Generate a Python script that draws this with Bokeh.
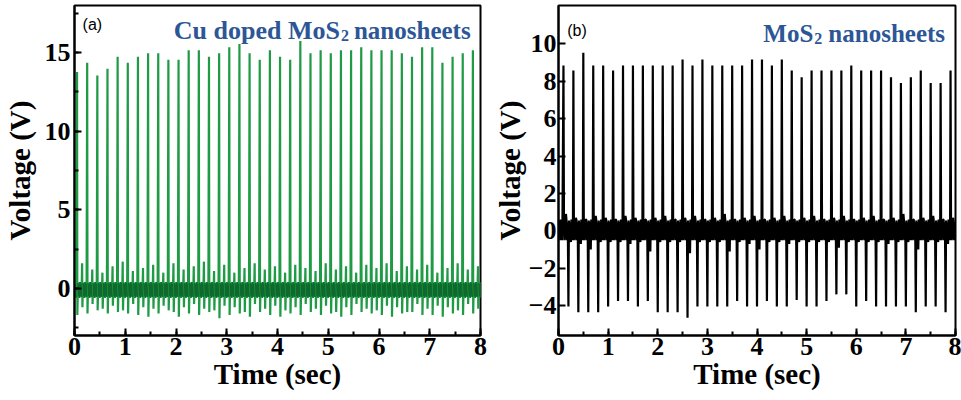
from bokeh.plotting import figure
from bokeh.layouts import row
from bokeh.models import Range1d, SingleIntervalTicker, FixedTicker, Label
from bokeh.embed import file_html
from bokeh.resources import INLINE

# ---------------- data ----------------
# Panel (a): Cu doped MoS2 nanosheets
A_PEAK_T = [0.05, 0.25, 0.45, 0.65, 0.85, 1.05, 1.25, 1.45, 1.65, 1.85,
            2.05, 2.25, 2.45, 2.65, 2.85, 3.05, 3.25, 3.45, 3.65, 3.85,
            4.05, 4.25, 4.45, 4.65, 4.85, 5.05, 5.25, 5.45, 5.65, 5.85,
            6.05, 6.25, 6.45, 6.65, 6.85, 7.05, 7.25, 7.45, 7.65, 7.85]
A_PEAK_V = [13.77, 14.36, 13.55, 13.98, 14.74, 14.36, 14.74, 14.96, 14.96, 14.55,
            14.55, 15.15, 15.15, 14.74, 14.96, 15.34, 15.55, 14.96, 14.55, 15.15,
            14.74, 14.55, 15.74, 14.96, 15.15, 14.96, 15.15, 15.15, 15.34, 15.15,
            15.15, 15.15, 14.96, 14.74, 15.34, 15.34, 14.36, 14.74, 14.96, 15.15]
A_DIP_V = [-1.7, -1.6, -1.4, -1.6, -1.5, -1.6, -1.7, -1.8, -1.6, -1.4,
           -1.8, -1.6, -1.7, -1.5, -1.9, -1.7, -1.6, -1.8, -1.5, -1.7,
           -1.8, -1.6, -1.7, -1.5, -1.7, -1.6, -1.8, -1.7, -1.5, -1.6,
           -1.7, -1.8, -1.6, -1.5, -1.7, -1.7, -1.8, -1.6, -1.7, -1.6]
A_BUMP_V = [1.6, 1.2, 1.0, 1.4, 1.7, 1.1, 1.3, 1.5, 1.0, 1.6,
            1.2, 1.4, 1.7, 1.1, 1.5, 1.0, 1.3, 1.6, 1.2, 1.4,
            1.0, 1.5, 1.3, 1.1, 1.6, 1.2, 1.4, 1.0, 1.5, 1.3,
            1.6, 1.1, 1.4, 1.2, 1.5, 1.0, 1.3, 1.6, 1.2, 1.4]
A_DIP2_V = [-1.2, -1.0, -1.3, -1.1, -1.4, -1.0, -1.2, -1.3, -1.1, -1.5,
            -1.2, -1.0, -1.3, -1.4, -1.1, -1.2, -1.5, -1.0, -1.3, -1.1,
            -1.4, -1.2, -1.0, -1.3, -1.1, -1.5, -1.2, -1.0, -1.3, -1.4,
            -1.1, -1.2, -1.5, -1.0, -1.3, -1.1, -1.2, -1.4, -1.0, -1.3]
A_NOISE = [0.35, -0.5, 0.25, -0.6, 0.4, -0.45, 0.3, -0.55]

# Panel (b): MoS2 nanosheets
B_PEAK_T = [0.1, 0.3, 0.5, 0.7, 0.9, 1.1, 1.3, 1.5, 1.7, 1.9,
            2.1, 2.3, 2.5, 2.7, 2.9, 3.1, 3.3, 3.5, 3.7, 3.9,
            4.1, 4.3, 4.5, 4.7, 4.9, 5.1, 5.3, 5.5, 5.7, 5.9,
            6.1, 6.3, 6.5, 6.7, 6.9, 7.1, 7.3, 7.5, 7.7, 7.9]
B_PEAK_V = [8.84, 8.57, 9.52, 8.84, 8.84, 8.57, 8.84, 8.84, 8.84, 8.84,
            8.84, 8.84, 9.16, 8.84, 9.16, 8.84, 8.84, 8.84, 8.84, 9.16,
            9.16, 8.84, 9.16, 8.57, 8.21, 8.57, 8.57, 8.57, 8.57, 8.84,
            8.57, 8.57, 8.57, 8.21, 7.90, 8.21, 8.57, 7.90, 7.90, 8.57]
B_TROUGH_T = [0.2, 0.4, 0.6, 0.8, 1.0, 1.2, 1.4, 1.6, 1.8, 2.0,
              2.2, 2.4, 2.6, 2.8, 3.0, 3.2, 3.4, 3.6, 3.8, 4.0,
              4.2, 4.4, 4.6, 4.8, 5.0, 5.2, 5.4, 5.6, 5.8, 6.0,
              6.2, 6.4, 6.6, 6.8, 7.0, 7.2, 7.4, 7.6, 7.8]
B_TROUGH_V = [-4.05, -4.36, -4.36, -4.36, -4.05, -3.75, -3.75, -4.05, -3.75, -4.36,
              -4.36, -4.36, -4.65, -4.05, -4.05, -4.05, -4.05, -3.75, -4.05, -4.05,
              -3.75, -4.05, -4.05, -3.70, -4.05, -4.05, -3.75, -3.40, -3.40, -4.05,
              -3.75, -4.05, -4.05, -4.05, -4.05, -4.36, -4.05, -4.05, -4.36]
B_BUMP_V = [0.9, 0.7, 0.6, 0.8, 0.7, 0.6, 0.8, 0.7, 0.6, 0.7,
            0.8, 0.6, 0.7, 0.8, 0.6, 0.7, 0.9, 0.6, 0.7, 0.8,
            0.6, 0.7, 0.8, 0.6, 0.7, 0.8, 0.6, 0.7, 0.8, 0.6,
            0.7, 0.8, 0.6, 0.7, 0.9, 0.6, 0.7, 0.8, 0.6, 0.7]
B_DIP_V = [-0.6, -0.7, -1.0, -0.6, -0.6, -0.6, -0.7, -0.6, -1.1, -0.6,
           -0.6, -0.6, -1.2, -0.6, -0.6, -0.6, -1.1, -0.6, -0.7, -1.0,
           -0.6, -0.6, -0.7, -0.6, -0.6, -0.6, -0.6, -0.9, -0.6, -0.6,
           -0.6, -0.6, -0.7, -0.6, -0.6, -1.0, -0.6, -0.6, -0.7, -0.6]
B_NOISE = [0.55, -0.5, 0.45, -0.45, 0.6, -0.5, 0.45, -0.5]

A_YTICKS = [0, 5, 10, 15]
B_YTICKS = [-4, -2, 0, 2, 4, 6, 8, 10]

# ---------------- build waveforms from the read values ----------------
def build_a():
    t, v, bt, bv = [], [], [], []
    for k in range(4):
        t.append(k * 0.01); v.append(A_NOISE[k])
        bt.append(k * 0.01); bv.append(A_NOISE[k])
    for i, tp in enumerate(A_PEAK_T):
        t += [tp, tp + 0.006]
        v += [A_PEAK_V[i], A_DIP_V[i]]
        bt.append(float("nan")); bv.append(float("nan"))
        for k, n in enumerate(A_NOISE):
            t.append(tp + 0.018 + k * 0.01); v.append(n)
            bt.append(tp + 0.018 + k * 0.01); bv.append(n)
        t += [tp + 0.1, tp + 0.106]
        v += [A_BUMP_V[i], A_DIP2_V[i]]
        bt.append(float("nan")); bv.append(float("nan"))
        for k, n in enumerate(A_NOISE):
            t.append(tp + 0.118 + k * 0.01); v.append(n)
            bt.append(tp + 0.118 + k * 0.01); bv.append(n)
    return t, v, bt, bv


def build_b():
    t, v = [], []
    for k in range(9):
        t.append(k * 0.01); v.append(B_NOISE[k % len(B_NOISE)])
    for i, tp in enumerate(B_PEAK_T):
        t.append(tp); v.append(B_PEAK_V[i])
        for k in range(4):
            t.append(tp + 0.01 + k * 0.01); v.append(B_NOISE[k])
        t.append(tp + 0.05); v.append(B_BUMP_V[i])
        for k in range(4):
            t.append(tp + 0.06 + k * 0.01); v.append(B_NOISE[4 + k])
        if i < len(B_TROUGH_T):
            t.append(B_TROUGH_T[i]); v.append(B_TROUGH_V[i])
        for k in range(4):
            t.append(tp + 0.11 + k * 0.01); v.append(B_NOISE[k])
        t.append(tp + 0.15); v.append(B_DIP_V[i])
        for k in range(4):
            t.append(tp + 0.16 + k * 0.01); v.append(B_NOISE[4 + k])
    return t, v


SERIF = "Liberation Serif"
TITLE_COLOR = "#2c5696"


def style(p, yticks, ticker_y_minor, y_label_standoff, y_major_standoff):
    p.outline_line_color = "black"
    p.outline_line_width = 2
    p.xgrid.visible = False
    p.ygrid.visible = False
    p.xaxis.ticker = SingleIntervalTicker(interval=1, num_minor_ticks=2)
    if ticker_y_minor:
        p.yaxis.ticker = SingleIntervalTicker(interval=5, num_minor_ticks=2)
    else:
        p.yaxis.ticker = FixedTicker(ticks=yticks)
    for ax in (p.xaxis[0], p.yaxis[0]):
        ax.axis_line_width = 2
        ax.major_tick_in = 7
        ax.major_tick_out = 0
        ax.minor_tick_in = 4
        ax.minor_tick_out = 0
        ax.major_tick_line_width = 2
        ax.minor_tick_line_width = 2
        ax.major_label_text_font = SERIF
        ax.major_label_text_font_style = "bold"
        ax.major_label_text_font_size = "26px"
        ax.major_label_text_color = "black"
        ax.axis_label_text_font = SERIF
        ax.axis_label_text_font_style = "bold"
        ax.axis_label_text_font_size = "29px"
        ax.axis_label_text_color = "black"
    p.xaxis.major_label_standoff = 2
    p.xaxis.axis_label_standoff = 0
    p.yaxis.major_label_standoff = y_major_standoff
    p.yaxis.axis_label_standoff = y_label_standoff
    p.xaxis.axis_label = "Time (sec)"
    p.yaxis.axis_label = "Voltage (V)"


# ---------------- panel (a) ----------------
pa = figure(width=490, height=400, output_backend="svg", toolbar_location=None,
            x_range=Range1d(0, 8), y_range=Range1d(-3, 18),
            min_border_left=74, min_border_right=10, min_border_top=5, min_border_bottom=65)
style(pa, A_YTICKS, True, 6, 4)
ta, va, bta, bva = build_a()
pa.line(ta, va, line_color="#1f9a45", line_width=2.2)
pa.line(bta, bva, line_color="#0e6a2c", line_width=1.4)

pa.add_layout(Label(x=0.16, y=16.8, text="(a)", text_font="Liberation Sans",
                    text_font_size="16px", text_color="black", text_baseline="alphabetic"))
pa.add_layout(Label(x=5.27, y=16.38, x_offset=-2, text="Cu doped MoS", text_font=SERIF,
                    text_font_style="bold", text_font_size="26px", text_color=TITLE_COLOR,
                    text_align="right", text_baseline="alphabetic"))
pa.add_layout(Label(x=5.27, y=16.38, y_offset=-5, x_offset=-1, text="2", text_font=SERIF,
                    text_font_style="bold", text_font_size="16px", text_color=TITLE_COLOR,
                    text_align="left", text_baseline="alphabetic"))
pa.add_layout(Label(x=5.27, y=16.38, x_offset=12, text="nanosheets", text_font=SERIF,
                    text_font_style="bold", text_font_size="25px", text_color=TITLE_COLOR,
                    text_align="left", text_baseline="alphabetic"))

# ---------------- panel (b) ----------------
pb = figure(width=471, height=400, output_backend="svg", toolbar_location=None,
            x_range=Range1d(0, 8), y_range=Range1d(-5.6, 12.05),
            min_border_left=68, min_border_right=6, min_border_top=5, min_border_bottom=65)
style(pb, B_YTICKS, False, 0, 2)
tb, vb = build_b()
pb.line(tb, vb, line_color="black", line_width=2.2)

pb.add_layout(Label(x=0.175, y=10.71, text="(b)", text_font="Liberation Sans",
                    text_font_size="16px", text_color="black", text_baseline="alphabetic"))
pb.add_layout(Label(x=5.136, y=10.53, text="MoS", text_font=SERIF, text_font_style="bold",
                    text_font_size="25px", text_color=TITLE_COLOR, text_align="right",
                    text_baseline="alphabetic"))
pb.add_layout(Label(x=5.136, y=10.53, y_offset=-5, x_offset=1, text="2", text_font=SERIF,
                    text_font_style="bold", text_font_size="16px", text_color=TITLE_COLOR,
                    text_align="left", text_baseline="alphabetic"))
pb.add_layout(Label(x=5.136, y=10.53, x_offset=15, text="nanosheets", text_font=SERIF,
                    text_font_style="bold", text_font_size="25px", text_color=TITLE_COLOR,
                    text_align="left", text_baseline="alphabetic"))

layout = row(pa, pb)
open("out.html", "w").write(file_html(layout, INLINE))
